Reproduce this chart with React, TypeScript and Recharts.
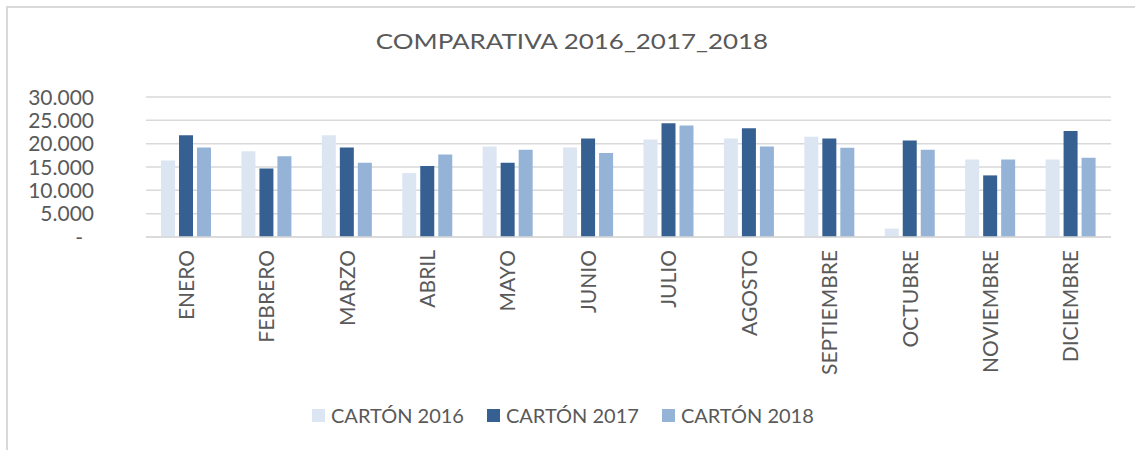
import React from 'react';
import { BarChart, Bar, XAxis, YAxis, CartesianGrid } from 'recharts';

const months = [
  'ENERO', 'FEBRERO', 'MARZO', 'ABRIL', 'MAYO', 'JUNIO',
  'JULIO', 'AGOSTO', 'SEPTIEMBRE', 'OCTUBRE', 'NOVIEMBRE', 'DICIEMBRE',
];

const carton2016 = [16400, 18400, 21800, 13700, 19400, 19200, 20900, 21100, 21500, 1800, 16600, 16600];
const carton2017 = [21800, 14700, 19200, 15200, 15900, 21100, 24400, 23300, 21100, 20700, 13200, 22700];
const carton2018 = [19200, 17300, 15900, 17700, 18700, 18000, 23900, 19400, 19100, 18700, 16600, 17000];

const yTicks = [0, 5000, 10000, 15000, 20000, 25000, 30000];

const seriesDefs = [
  { key: 'c2016', name: 'CARTÓN 2016', color: '#DCE6F2' },
  { key: 'c2017', name: 'CARTÓN 2017', color: '#366092' },
  { key: 'c2018', name: 'CARTÓN 2018', color: '#95B3D7' },
];

const data = months.map((m, i) => ({
  name: m,
  c2016: carton2016[i],
  c2017: carton2017[i],
  c2018: carton2018[i],
}));

const FONT = 'Lato, "Liberation Sans", sans-serif';
const TEXT = '#595959';

// excel style: 30.000, and a dash for zero
const fmt = (v: number) => (v === 0 ? '-' : v.toLocaleString('de-DE'));

const YTick = (props: any) => {
  const { x, y, payload } = props;
  const isZero = payload.value === 0;
  return (
    <text
      x={isZero ? x - 11 : x}
      y={y}
      dy="0.36em"
      textAnchor="end"
      fill={TEXT}
      fontSize={21}
      fontFamily={FONT}
    >
      {fmt(payload.value)}
    </text>
  );
};

const XTick = (props: any) => {
  const { x, y, payload } = props;
  return (
    <text
      transform={`translate(${x},${y + 11}) rotate(-90)`}
      dy="0.36em"
      textAnchor="end"
      fill={TEXT}
      fontSize={21}
      fontFamily={FONT}
    >
      {payload.value}
    </text>
  );
};

export default function App() {
  return (
    <div style={{ position: 'absolute', left: 0, top: 0, width: 1135, height: 450, background: '#fff', overflow: 'hidden' }}>
      <div
        style={{
          position: 'absolute', left: 6, top: 6, width: 1200, height: 500,
          borderLeft: '2px solid #D9D9D9', borderTop: '2px solid #D9D9D9',
        }}
      />
      <div
        style={{
          position: 'absolute', left: 0, width: 1144, top: 30, textAlign: 'center',
          fontFamily: FONT, fontSize: 22, color: TEXT, lineHeight: '22px',
          transform: 'scaleX(1.18)', transformOrigin: '572px 0',
        }}
      >
        COMPARATIVA 2016_2017_2018
      </div>
      <div style={{ position: 'absolute', left: 0, top: 0 }}>
        <BarChart
          width={1135}
          height={450}
          data={data}
          margin={{ top: 97, right: 24, left: 0, bottom: 0 }}
          barSize={14}
          barGap={4}
        >
          <CartesianGrid vertical={false} stroke="#D9D9D9" strokeWidth={1.5} />
          <XAxis
            dataKey="name"
            height={213}
            interval={0}
            tickLine={false}
            tickSize={0}
            axisLine={{ stroke: '#D9D9D9', strokeWidth: 1.5 }}
            tick={<XTick />}
          />
          <YAxis
            width={146}
            domain={[0, 30000]}
            ticks={yTicks}
            axisLine={false}
            tickLine={false}
            tickSize={0}
            tickMargin={52}
            tick={<YTick />}
          />
          {seriesDefs.map((s) => (
            <Bar key={s.key} dataKey={s.key} name={s.name} fill={s.color} isAnimationActive={false} />
          ))}
        </BarChart>
      </div>
      <div
        style={{
          position: 'absolute', left: 312, top: 404, display: 'flex', alignItems: 'center',
          fontFamily: FONT, fontSize: 20, color: TEXT, lineHeight: '22px',
        }}
      >
        {seriesDefs.map((s) => (
          <div key={s.key} style={{ display: 'flex', alignItems: 'center', marginRight: 23 }}>
            <span style={{ display: 'inline-block', width: 13, height: 13, background: s.color, marginRight: 6 }} />
            <span>{s.name}</span>
          </div>
        ))}
      </div>
    </div>
  );
}
